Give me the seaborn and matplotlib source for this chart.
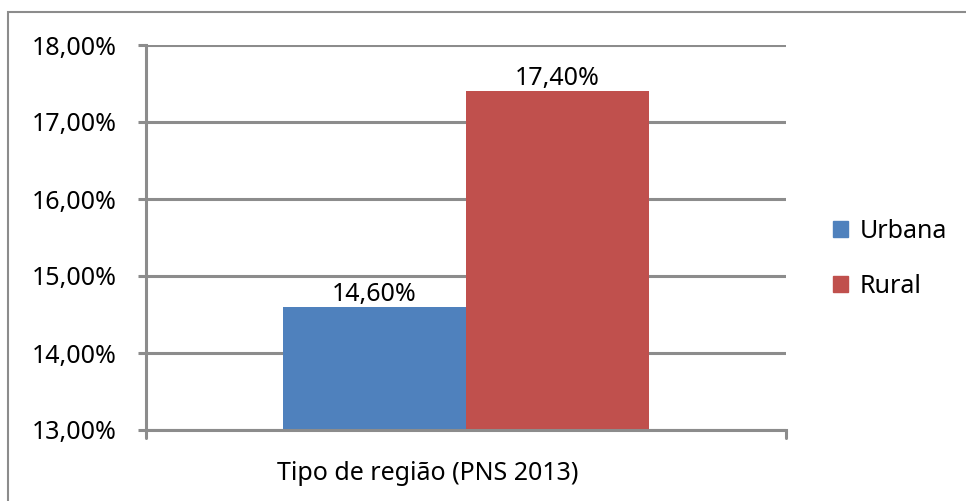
#!/usr/bin/env python3
# coding: utf-8

import matplotlib
matplotlib.use("Agg")
import matplotlib.pyplot as plt
import matplotlib.patches as mpatches
import matplotlib.transforms as mtransforms
import seaborn as sns
import pandas as pd

# ---data---
categoria = ["Tipo de região (PNS 2013)"]
regioes = ["Urbana", "Rural"]
valores = [14.60, 17.40]
cores = ["#4f81bd", "#c0504d"]
y_ticks = [13, 14, 15, 16, 17, 18]

df = pd.DataFrame({"categoria": categoria * len(regioes),
                   "regiao": regioes,
                   "valor": valores})

sns.set_style("white")
plt.rcParams["font.family"] = ["Noto Sans", "DejaVu Sans"]
plt.rcParams["text.color"] = "black"

fig = plt.figure(figsize=(9.66, 5.01), dpi=100)
ax = fig.add_axes([146/966, 1 - 430/501, 640/966, 385/501])

sns.barplot(data=df, x="categoria", y="valor", hue="regiao", palette=cores,
            width=0.572, saturation=1, linewidth=0, ax=ax, legend=False)

ax.set_ylim(13, 18)
ax.set_xlim(-0.5, 0.5)
ax.set_yticks(y_ticks)
ax.set_yticklabels(["{:.2f}%".format(v).replace(".", ",") for v in y_ticks], fontsize=18)
ax.tick_params(axis="x", labelsize=18, length=0, pad=22, labelcolor="black")
ax.tick_params(axis="y", length=6, width=2.2, color="#8c8c8c", pad=15, left=True,
               labelcolor="black")
ax.set_xlabel("")
ax.set_ylabel("")

# category label sits a bit left of the axis centre, as in the original
for lbl in ax.get_xticklabels():
    lbl.set_transform(lbl.get_transform() +
                      mtransforms.ScaledTranslation(-0.38, 0, fig.dpi_scale_trans))

ax.grid(axis="y", color="#8c8c8c", lw=2.2)
ax.set_axisbelow(True)
for s in ["top", "right"]:
    ax.spines[s].set_visible(False)
for s in ["left", "bottom"]:
    ax.spines[s].set_color("#8c8c8c")
    ax.spines[s].set_linewidth(2.2)

# tick marks at the ends of the category axis
for xe in [-0.5, 0.5]:
    ax.plot([xe, xe], [13, 12.9], color="#8c8c8c", lw=2.2, clip_on=False)

for cont in ax.containers:
    ax.bar_label(cont, labels=["{:.2f}%".format(b.get_height()).replace(".", ",") for b in cont],
                 fontsize=18, padding=0, color="black")

handles = [mpatches.Patch(color=c, label=r) for c, r in zip(cores, regioes)]
fig.legend(handles=handles, loc="center left", bbox_to_anchor=(810/966, 1 - 259/501),
           frameon=False, fontsize=18, handlelength=0.6, handleheight=0.6,
           labelspacing=1.2, handletextpad=0.5)

# chart border (left and top visible)
fig.patches.append(mpatches.Rectangle((8/966, -0.1), 1.2, 1 - 12/501 + 0.1,
                                      transform=fig.transFigure, fill=False,
                                      edgecolor="#8c8c8c", lw=1.5))

fig.savefig("out.png", dpi=100)
